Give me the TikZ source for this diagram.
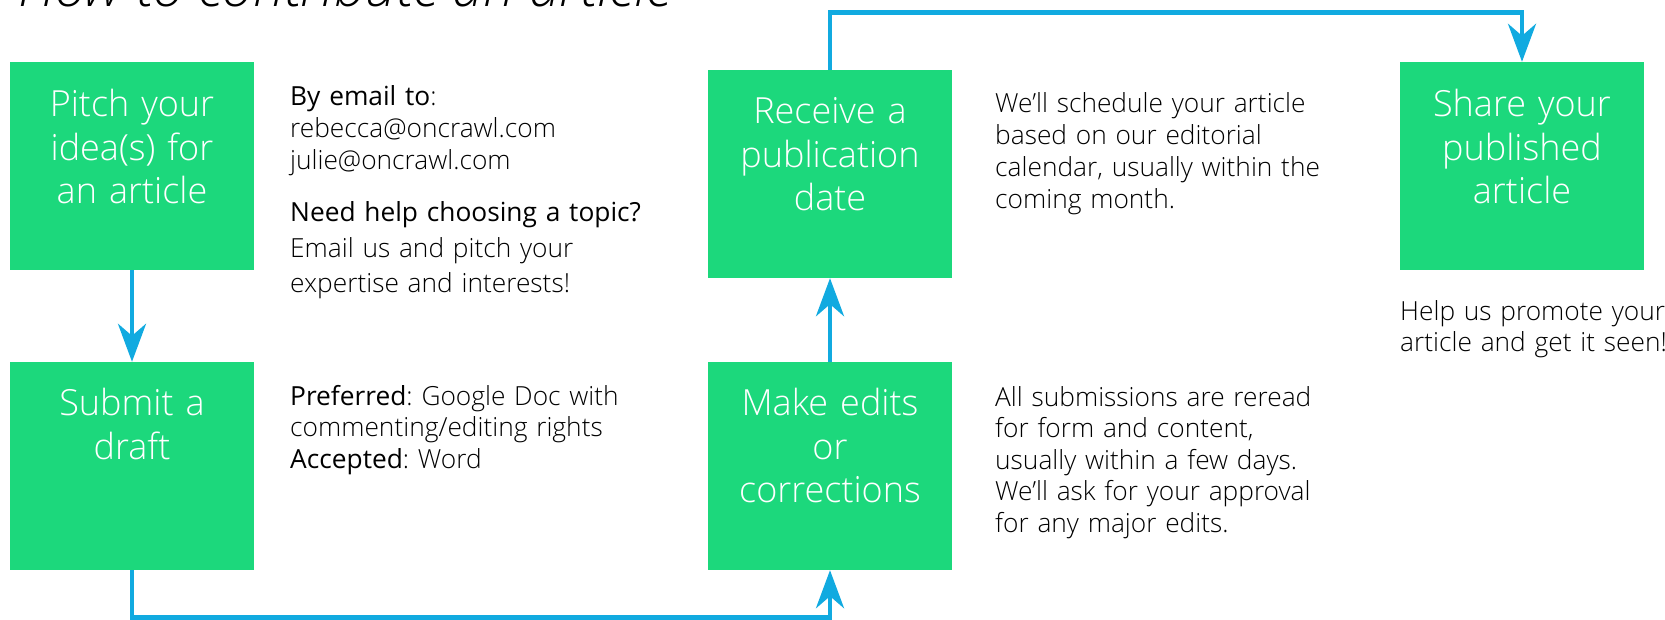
\documentclass[tikz,border=0pt]{standalone}
\usepackage{fontspec}
\setmainfont{Open Sans}[UprightFont={* Light},ItalicFont={* Light Italic},BoldFont={*}]
\usetikzlibrary{arrows.meta,positioning}
\definecolor{stepgreen}{RGB}{28,216,124}
\definecolor{flowblue}{RGB}{17,170,224}
\frenchspacing

\begin{document}
\begin{tikzpicture}[x=1pt,y=-1pt,
    flow/.style={draw=flowblue,line width=4.5pt,-{Stealth[length=38pt,width=28pt,inset=12pt]}}]%
        \useasboundingbox (0,0) rectangle (1665,620); %%
        \node[anchor=base west,inner sep=0pt,font=\fontsize{55.6}{66}\selectfont\itshape] (title) at (18,6.5) {How to contribute an article}; %%
        \begin{scope}
            \tikzstyle{every node}=[fill=stepgreen,minimum width=244pt,minimum height=208pt,inner sep=0pt];%%
            \node (pitch) at (132,166) {}; %%
            \node (submit) at (132,466) {}; %%
            \node (receive) at (830,174) {}; %%
            \node (edits) at (830,466) {}; %%
            \node (share) at (1522,166) {}; %%
        \end{scope}
        \begin{scope}
            \tikzstyle{every node}=[anchor=base,text=white,align=center,text width=236pt,inner sep=0pt,font=\fontsize{36}{43.5}\selectfont];%%
            \node (pitcht) at ([yshift=-55pt]pitch.north) {Pitch your\\idea(s) for\\an article}; %%
            \node (submitt) at ([yshift=-54pt]submit.north) {Submit a\\draft}; %%
            \node (receivet) at ([yshift=-54pt]receive.north) {Receive a\\publication\\date}; %%
            \node (editst) at ([yshift=-54pt]edits.north) {Make edits\\or\\corrections}; %%
            \node (sharet) at ([yshift=-55pt]share.north) {Share your\\published\\article}; %%
        \end{scope}
        \begin{scope}
            \tikzstyle{every node}=[anchor=base west,align=left,text width=380pt,inner sep=0pt,font=\fontsize{26.3}{32}\selectfont];%%
            \node (email) at (290,105.7) {\textbf{By email to}:\\rebecca@oncrawl.com\\julie@oncrawl.com}; %%
            \node[font=\fontsize{26.3}{35.5}\selectfont] (help) at (290,221.7) {\textbf{Need help choosing a topic?}\\Email us and pitch your\\expertise and interests!}; %%
            \node[font=\fontsize{26.3}{31.5}\selectfont] (format) at (290,405) {\textbf{Preferred}: Google Doc with\\commenting/editing rights\\\textbf{Accepted}: Word}; %%
            \node (schedule) at (995,113) {We'll schedule your article\\based on our editorial\\calendar, usually within the\\coming month.}; %%
            \node[font=\fontsize{26.3}{31.5}\selectfont] (reread) at (995,406) {All submissions are reread\\for form and content,\\usually within a few days.\\We'll ask for your approval\\for any major edits.}; %%
            \node[font=\fontsize{26.3}{31}\selectfont] (promote) at (1400,320.7) {Help us promote your\\article and get it seen!}; %%
        \end{scope}
        \coordinate (low) at (132,617.5); %%
        \coordinate (high) at (830,12.5); %%
        \draw[flow] (pitch)--(submit); %%
        \draw[flow] (submit.south)--(low)-|(edits.south); %%
        \draw[flow] (edits)--(receive); %%
        \draw[flow] (receive.north)--(high)-|(share.north); %%
\end{tikzpicture}
\end{document}
